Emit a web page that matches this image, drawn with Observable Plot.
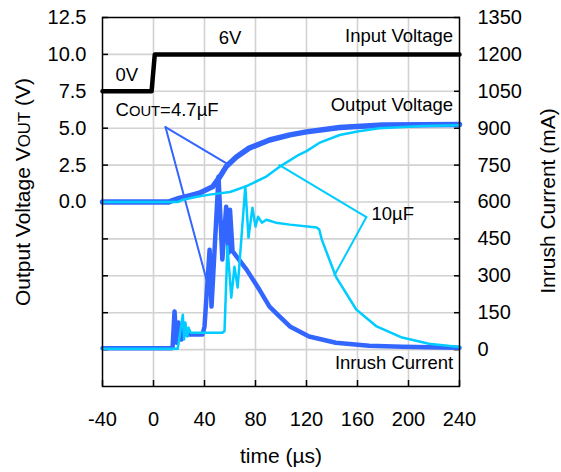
<!DOCTYPE html>
<html><head><meta charset="utf-8">
<script src="https://cdn.jsdelivr.net/npm/d3@7"></script>
<script src="https://cdn.jsdelivr.net/npm/@observablehq/plot@0.6"></script>
<style>body{margin:0;background:#fff}</style>
</head><body><div id="chart"></div>
<script>
// ---- tick labels ----
const xTicks = [-40, 0, 40, 80, 120, 160, 200, 240];
const voltTicks = [0, 2.5, 5, 7.5, 10, 12.5];
const currentTicks = [0, 150, 300, 450, 600, 750, 900, 1050, 1200, 1350];

// ---- input voltage (V) ----
const inputTime = [-40, -1.5, 1, 240];
const inputVolt = [0, 0, 6, 6];

// ---- output voltage (V) ----
const vout47Time = [-40, 12, 15, 20, 28, 36, 46.5, 52, 57, 65, 75, 91, 107, 120, 146, 180, 210, 240];
const vout47Val  = [0, 0, 0.1, 0.25, 0.42, 0.6, 1.04, 1.7, 2.4, 3.05, 3.65, 4.2, 4.55, 4.75, 5.05, 5.22, 5.24, 5.25];
const vout10Time = [-40, 19, 23, 34, 44, 60, 73, 88, 100, 114, 120, 130, 146, 161, 177, 211, 240];
const vout10Val  = [0, 0, 0.15, 0.35, 0.5, 0.68, 1.08, 1.7, 2.45, 3.2, 3.45, 4.0, 4.54, 4.8, 5.0, 5.15, 5.2];

// ---- inrush current (mA) ----
const inr47Time = [-40, 14, 15, 16.5, 18, 19.6, 22, 22.7, 26, 38.4, 40, 44, 45.5, 48, 51, 54, 57, 59, 60, 62, 73, 83, 91, 99, 107, 122, 143, 169, 195, 238, 240];
const inr47Val  = [5, 5, 12, 155, 28, 110, 41, 81, 61, 61, 93, 406, 175, 415, 703, 366, 581, 394, 569, 400, 325, 244, 175, 134, 94, 53, 28, 16, 12, 8, 8];
const inr10Time = [-40, 19, 23, 24, 25, 26.5, 27.5, 29, 54, 55.7, 58, 61, 63.5, 66, 72, 74.5, 77.6, 80, 82, 85, 88.6, 96, 107, 128, 130, 132, 143, 159, 175, 195, 216, 238, 240];
const inr10Val  = [3, 3, 142, 41, 110, 53, 89, 69, 69, 75, 420, 211, 337, 252, 663, 455, 577, 500, 540, 516, 528, 516, 508, 496, 488, 447, 297, 163, 94, 49, 24, 12, 10];

// ---- annotations ----
const labelTexts = ["0V", "6V", "Input Voltage", "Output Voltage", "COUT=4.7µF", "10µF", "Inrush Current"];
const axisTitles = ["time (µs)", "Output Voltage VOUT (V)", "Inrush Current (mA)"];

// current (mA) is drawn against the right axis: 0 mA ↔ -10 on left scale, 150 mA per 2.5 V
const toLeft = mA => mA / 60 - 10;
const fromLeft = y => (y + 10) * 60;
const inputToLeft = v => 7.5 + v * 2.5 / 6;

const zipSeries = (ts, vs, f = d => d) => ts.map((t, i) => ({t, y: f(vs[i])}));
const inputData = zipSeries(inputTime, inputVolt, inputToLeft);
const v47 = zipSeries(vout47Time, vout47Val);
const v10 = zipSeries(vout10Time, vout10Val);
const i47 = zipSeries(inr47Time, inr47Val, toLeft);
const i10 = zipSeries(inr10Time, inr10Val, toLeft);

const gridVals = currentTicks.map(toLeft);

const BLUE = "#3366ff", CYAN = "#00ccff";
const FONT = "'Liberation Sans', Arial, sans-serif";

const chart = Plot.plot({
  width: 561, height: 472,
  marginLeft: 102, marginRight: 102, marginTop: 17, marginBottom: 86,
  x: {domain: [-40, 240]},
  y: {domain: [-12.5, 12.5]},
  style: {fontFamily: FONT, fontSize: "20px", background: "white", color: "black"},
  marks: [
    Plot.gridX(xTicks.slice(1, -1), {stroke: "#d2d2d2", strokeOpacity: 1, strokeWidth: 1.6}),
    Plot.gridY(gridVals.slice(0, -1), {stroke: "#d2d2d2", strokeOpacity: 1, strokeWidth: 1.6}),
    Plot.axisX(xTicks, {anchor: "bottom", tickSize: -6, tickPadding: 31, label: null, strokeWidth: 1.5,
      tickFormat: d => String(d)}),
    Plot.axisY(gridVals, {anchor: "left", tickSize: -6, tickPadding: 22, label: null, strokeWidth: 1.5,
      tickFormat: d => voltTicks.includes(d) ? d.toFixed(1) : ""}),
    Plot.axisY(gridVals, {anchor: "right", tickSize: -6, tickPadding: 24, label: null, strokeWidth: 1.5,
      tickFormat: d => String(Math.round(fromLeft(d)))}),
    // annotation leader lines
    Plot.line([{t: 9.4, y: 5.08}, {t: 59.6, y: 2.5}], {x: "t", y: "y", stroke: BLUE, strokeWidth: 2}),
    Plot.line([{t: 9.4, y: 5.08}, {t: 41.6, y: -5.28}], {x: "t", y: "y", stroke: BLUE, strokeWidth: 2}),
    Plot.line([{t: 167, y: -1.02}, {t: 98.8, y: 2.5}], {x: "t", y: "y", stroke: CYAN, strokeWidth: 2}),
    Plot.line([{t: 167, y: -1.02}, {t: 142, y: -4.95}], {x: "t", y: "y", stroke: CYAN, strokeWidth: 2}),
    // series
    Plot.line(inputData, {x: "t", y: "y", stroke: "black", strokeWidth: 4.5}),
    Plot.line(v47, {x: "t", y: "y", stroke: BLUE, strokeWidth: 5.5}),
    Plot.line(i47, {x: "t", y: "y", stroke: BLUE, strokeWidth: 4.5}),
    Plot.line(v10, {x: "t", y: "y", stroke: CYAN, strokeWidth: 2.5}),
    Plot.line(i10, {x: "t", y: "y", stroke: CYAN, strokeWidth: 2.5}),
    Plot.frame({stroke: "black", strokeWidth: 1.5}),
    // labels
    Plot.text([labelTexts[0]], {x: -29.8, y: 8.6, text: d => d, textAnchor: "start", fontSize: 18.5}),
    Plot.text([labelTexts[1]], {x: 60, y: 11.1, text: d => d, textAnchor: "middle", fontSize: 18.5}),
    Plot.text([labelTexts[2]], {x: 235, y: 11.25, text: d => d, textAnchor: "end", fontSize: 18.5}),
    Plot.text([labelTexts[3]], {x: 235, y: 6.57, text: d => d, textAnchor: "end", fontSize: 18.5}),
    Plot.text([labelTexts[4]], {x: -29.8, y: 6.23, text: d => d, textAnchor: "start", fontSize: 18.5}),
    Plot.text([labelTexts[5]], {x: 171, y: -0.8, text: d => d, textAnchor: "start", fontSize: 18.5}),
    Plot.text([labelTexts[6]], {x: 235, y: -10.9, text: d => d, textAnchor: "end", fontSize: 18.5}),
    // axis titles
    Plot.text([axisTitles[0]], {frameAnchor: "bottom", dy: 76, text: d => d, fontSize: 21}),
    Plot.text([axisTitles[1]], {frameAnchor: "left", textAnchor: "middle", dx: -79, dy: -10, rotate: -90, text: d => d, fontSize: 21}),
    Plot.text([axisTitles[2]], {frameAnchor: "right", textAnchor: "middle", dx: 89, dy: -1, rotate: -90, text: d => d, fontSize: 21})
  ]
});

// small-caps style "OUT" in COUT / VOUT
d3.select(chart).selectAll("text").each(function () {
  const el = this;
  const s = el.textContent;
  const m = s.match(/^(.*?[CV])OUT(.*)$/);
  if (!m || el.querySelector("tspan")) return;
  el.textContent = "";
  const ns = "http://www.w3.org/2000/svg";
  const a = document.createElementNS(ns, "tspan"); a.textContent = m[1];
  const b = document.createElementNS(ns, "tspan"); b.textContent = "OUT"; b.setAttribute("font-size", "0.8em");
  const c = document.createElementNS(ns, "tspan"); c.textContent = m[2];
  el.append(a, b, c);
});

document.getElementById("chart").append(chart);
</script>
</body></html>
